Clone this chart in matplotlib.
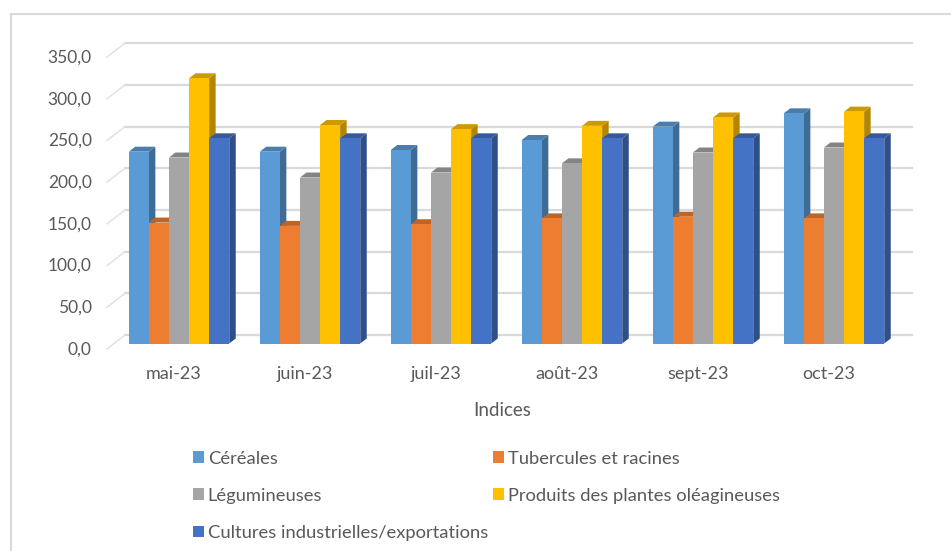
"""Indices par groupe de produits, colonnes façon Excel 3D."""
import matplotlib

matplotlib.use("Agg")
import matplotlib.pyplot as plt
from matplotlib.lines import Line2D
from matplotlib.patches import Patch, Polygon, Rectangle
from matplotlib.transforms import offset_copy

plt.rcParams["font.family"] = ["Lato", "DejaVu Sans"]

months = ["mai-23", "juin-23", "juil-23", "août-23", "sept-23", "oct-23"]
cereales = [230, 230, 232, 244, 260, 276]
tubercules = [145, 141, 143, 150, 152, 150]
legumineuses = [223, 199, 205, 216, 229, 235]
oleagineuses = [318, 262, 257, 261, 271, 278]
cultures = [246, 246, 246, 246, 246, 246]
y_ticks = [0, 50, 100, 150, 200, 250, 300, 350]

series = [
    ("Céréales", cereales, "#5B9BD5", "#3F6C95", "#4A7DAC"),
    ("Tubercules et racines", tubercules, "#ED7D31", "#A65722", "#BE6427"),
    ("Légumineuses", legumineuses, "#A5A5A5", "#737373", "#848484"),
    ("Produits des plantes oléagineuses", oleagineuses, "#FFC000", "#B28600", "#CC9A00"),
    ("Cultures industrielles/exportations", cultures, "#4472C4", "#2F4F89", "#36599D"),
]

W, H = 951, 551
LEFT, RIGHT, BASE, TOP = 107, 912, 343.5, 43.5
GROUP_PITCH, GROUP0, BAR_W = 131, 179, 20.1
GRID_PX = 41.7
GRID = "#D9D9D9"

fig = plt.figure(figsize=(W / 100, H / 100), dpi=100)
ax = fig.add_axes([LEFT / W, 1 - BASE / H, (RIGHT - LEFT) / W, (BASE - TOP) / H])
ax.set_xlim((LEFT - GROUP0) / GROUP_PITCH, (RIGHT - GROUP0) / GROUP_PITCH)
ax.set_ylim(0, (BASE - TOP) / GRID_PX * 50)
for s in ax.spines.values():
    s.set_visible(False)

# conversions pixels -> unités de données
px_x = 1 / GROUP_PITCH
px_y = 50 / GRID_PX
bar_w = BAR_W * px_x
dx, dy = 6.5 * px_x, 5 * px_y
wall_dx, wall_back, wall_front = 18 * px_x, 8.5 * px_y, -5.5 * px_y

# mur du fond et paroi latérale
for v in y_ticks:
    ax.plot([ax.get_xlim()[0] + wall_dx, ax.get_xlim()[1]], [v + wall_back] * 2,
            color=GRID, lw=1.6, clip_on=False, zorder=1)
    ax.plot([ax.get_xlim()[0], ax.get_xlim()[0] + wall_dx],
            [v + wall_front, v + wall_back],
            color="#E2E2E2", lw=1.1, clip_on=False, zorder=1)

# barres, de gauche à droite pour que les faces se recouvrent bien
for k, (name, values, front, side, top) in enumerate(series):
    for i, v in enumerate(values):
        x0 = i + (k - 2.5) * bar_w
        x1 = x0 + bar_w
        ax.add_patch(Polygon([(x1, 0), (x1 + dx, dy), (x1 + dx, v + dy), (x1, v)],
                             fc=side, ec="none", zorder=2 + k * 0.1, clip_on=False))
        ax.add_patch(Polygon([(x0, v), (x0 + dx, v + dy), (x1 + dx, v + dy), (x1, v)],
                             fc=top, ec="none", zorder=2 + k * 0.1, clip_on=False))
        ax.add_patch(Rectangle((x0, 0), bar_w, v, fc=front, ec="none",
                               zorder=2.05 + k * 0.1, clip_on=False))

ax.set_xticks(range(len(months)), months)
ax.set_yticks(y_ticks, [f"{v:.1f}".replace(".", ",") for v in y_ticks])
ax.tick_params(length=0, labelcolor="#595959")
ax.tick_params(axis="x", pad=16, labelsize=13)
ax.tick_params(axis="y", pad=11, labelsize=12.5)
for lab in ax.get_yticklabels():
    lab.set_transform(offset_copy(lab.get_transform(), fig=fig, y=-4.5, units="dots"))
for lab in ax.get_xticklabels():
    lab.set_transform(offset_copy(lab.get_transform(), fig=fig, x=-5, units="dots"))

fig.text(502 / W, 1 - 411 / H, "Indices", ha="center", va="center",
         fontsize=13.5, color="#595959")

# cadre : gauche et haut seulement, le reste sort de l'image
fig.add_artist(Line2D([10.5 / W, 10.5 / W, 1], [0, 1 - 13.5 / H, 1 - 13.5 / H],
                      color=GRID, lw=1.5))

handles = [Patch(fc=c[2], ec="none") for c in series]
labels = [c[0] for c in series]
order = [0, 2, 4, 1, 3]
fig.legend([handles[i] for i in order], [labels[i] for i in order], ncol=2,
           loc="upper left", bbox_to_anchor=(189 / W, 1 - 447 / H), frameon=False,
           fontsize=13.2, labelcolor="#595959", handlelength=0.6, handleheight=0.6,
           handletextpad=0.22, labelspacing=1.15, columnspacing=0.28,
           borderpad=0.2, borderaxespad=0)

fig.savefig("out.png", dpi=100)
